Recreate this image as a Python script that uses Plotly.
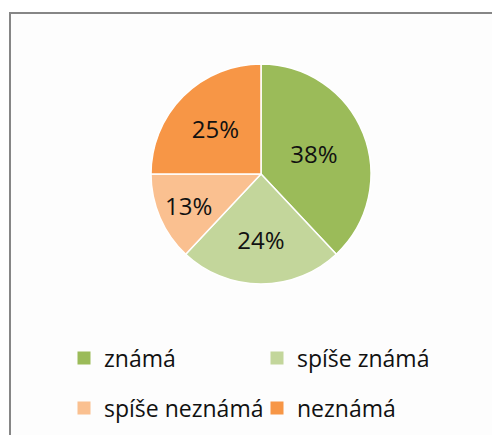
import plotly.graph_objects as go

categories = ["známá", "spíše známá", "spíše neznámá", "neznámá"]
values = [38, 24, 13, 25]
colors = ["#9BBB59", "#C3D69B", "#FAC090", "#F79646"]

W, H = 500, 435
OX, OY = 8, 8  # page body margin offset
def fx(px): return (px - OX) / W
def fy(py): return 1 - (py - OY) / H

fig = go.Figure()

cx, cy, r = 261, 174, 110
fig.add_trace(go.Pie(
    labels=categories, values=values, sort=False, direction="clockwise", rotation=0,
    marker=dict(colors=colors, line=dict(color="white", width=1.5)),
    texttemplate="%{percent:.0%}", textposition="inside", insidetextorientation="horizontal",
    textfont=dict(size=24, color="#111", family="Open Sans"),
    showlegend=False, hoverinfo="label+percent",
    domain=dict(x=[fx(cx - r), fx(cx + r)], y=[fy(cy + r), fy(cy - r)]),
))

for i, (c, col) in enumerate(zip(categories, colors)):
    fig.add_trace(go.Scatter(
        x=[None], y=[None], mode="markers", name=c,
        marker=dict(symbol="square", size=13, color=col),
        legend="legend" if i < 2 else "legend2",
    ))

legend_common = dict(orientation="h", xanchor="left", yanchor="middle",
                     font=dict(size=23, color="#111", family="Open Sans"),
                     entrywidth=148, bgcolor="rgba(0,0,0,0)", itemclick=False)
fig.update_layout(
    width=W, height=H,
    margin=dict(l=0, r=0, t=0, b=0),
    paper_bgcolor="white", plot_bgcolor="white",
    xaxis=dict(visible=False), yaxis=dict(visible=False),
    legend=dict(x=fx(64), y=fy(358), **legend_common),
    legend2=dict(x=fx(64), y=fy(408), **legend_common),
    shapes=[dict(type="rect", xref="paper", yref="paper",
                 x0=fx(10), x1=1.05, y0=-0.05, y1=fy(13),
                 line=dict(color="#868686", width=2), fillcolor="#FDFDFD", layer="below")],
)
fig.write_html("out.html")
